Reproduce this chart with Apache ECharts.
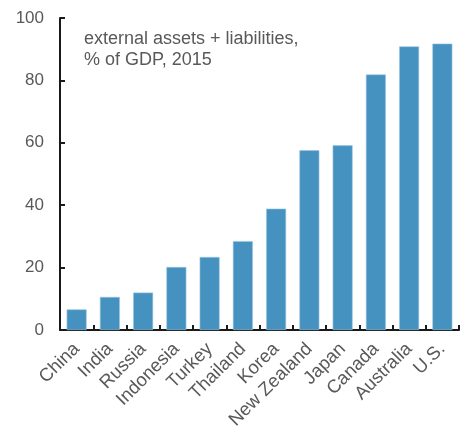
<!DOCTYPE html>
<html><head><meta charset="utf-8">
<script src="https://cdn.jsdelivr.net/npm/echarts@6/dist/echarts.min.js"></script>
<style>html,body{margin:0;padding:0;background:#fff}#c{width:461px;height:433px}</style>
</head><body><div id="c"></div>
<script>
const categories = ["China","India","Russia","Indonesia","Turkey","Thailand","Korea","New Zealand","Japan","Canada","Australia","U.S."];
const values = [6.6, 10.6, 12.0, 20.2, 23.4, 28.5, 38.9, 57.6, 59.2, 81.9, 90.9, 91.8];
const yTicks = [0, 20, 40, 60, 80, 100];
const F = 'Liberation Sans, Arial, sans-serif';
const chart = echarts.init(document.getElementById('c'), null, {renderer:'canvas'});
chart.setOption({
  animation:false,
  textStyle:{fontFamily:F},
  title:{
    text:'external assets + liabilities,\n% of GDP, 2015',
    left:79, top:24,
    textStyle:{fontSize:18, fontWeight:'normal', color:'#595959', lineHeight:21, fontFamily:F}
  },
  grid:{left:60, right:2, top:18, bottom:103, containLabel:false},
  xAxis:{
    type:'category', data:categories,
    axisLine:{lineStyle:{color:'#1a1a1a', width:2}},
    axisTick:{show:true, inside:true, length:5, alignWithLabel:false, lineStyle:{color:'#1a1a1a', width:2}},
    axisLabel:{rotate:45, fontSize:18.5, color:'#595959', margin:16, interval:0, fontFamily:F}
  },
  yAxis:{
    type:'value', min:yTicks[0], max:yTicks[yTicks.length-1], interval:20,
    splitLine:{show:false},
    axisLine:{show:true, lineStyle:{color:'#1a1a1a', width:2}},
    axisTick:{show:true, inside:true, length:5, lineStyle:{color:'#1a1a1a', width:2}},
    axisLabel:{fontSize:17, color:'#595959', margin:16, fontFamily:F}
  },
  series:[{
    type:'bar', data:values, barWidth:'60%',
    itemStyle:{color:'#4592c0', borderColor:'#9cc6df', borderWidth:0.6}
  }]
});
</script></body></html>
